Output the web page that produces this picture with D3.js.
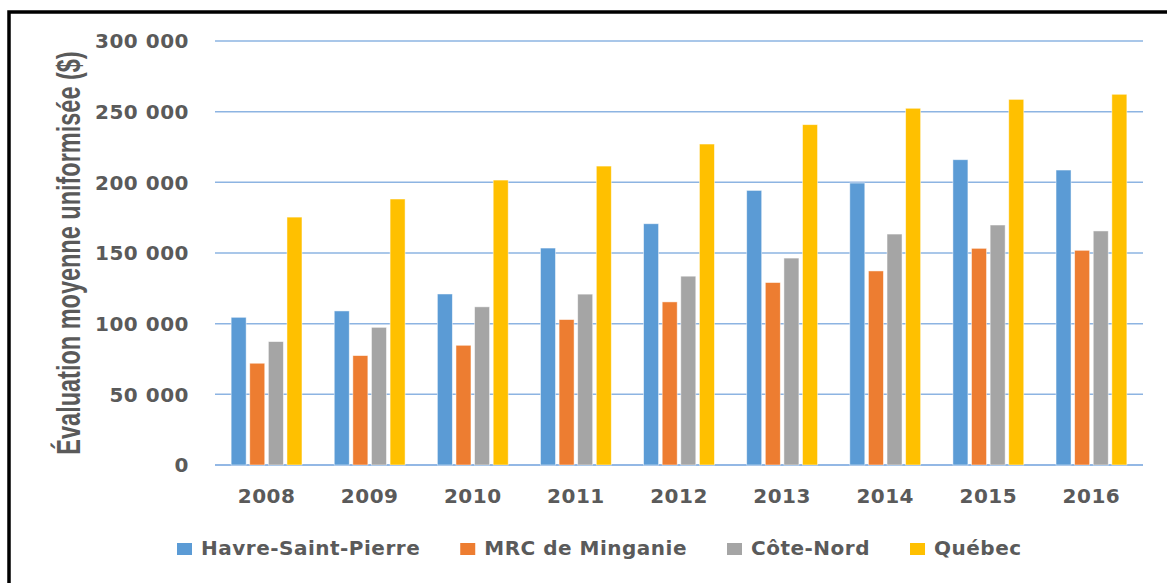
<!DOCTYPE html>
<html lang="fr">
<head>
<meta charset="UTF-8">
<title>Évaluation moyenne uniformisée</title>
<script src="https://d3js.org/d3.v7.min.js"></script>
<style>
    body { margin: 0; background: #fff; }
    .tick-label, .legend-text {
        font-family: "DejaVu Sans", sans-serif;
        font-weight: bold;
        font-size: 20px;
        letter-spacing: 0.5px;
        fill: #5a5a5a;
    }
    .y-title {
        font-family: "Liberation Sans", Arial, sans-serif;
        font-weight: bold;
        font-size: 23.5px;
        fill: #5a5a5a;
    }
</style>
</head>
<body>
<svg width="1167" height="583"></svg>
<script>
    // data
    const years = ["2008", "2009", "2010", "2011", "2012", "2013", "2014", "2015", "2016"];
    const series = ["Havre-Saint-Pierre", "MRC de Minganie", "Côte-Nord", "Québec"];
    const colors = ["#5B9BD5", "#ED7D31", "#A5A5A5", "#FFC000"];

    const havre    = [104500, 109000, 121000, 153500, 170700, 194300, 199500, 216000, 208700];
    const minganie = [72000, 77400, 84700, 102900, 115400, 129100, 137300, 153300, 151900];
    const coteNord = [87300, 97400, 111900, 120900, 133600, 146400, 163400, 169800, 165600];
    const quebec   = [175400, 188200, 201600, 211500, 227100, 240800, 252400, 258700, 262300];

    const yTicks = [0, 50000, 100000, 150000, 200000, 250000, 300000];

    const values = [havre, minganie, coteNord, quebec];
    const rows = years.map((yr, i) => ({
        year: yr,
        bars: series.map((s, j) => ({ key: s, value: values[j][i], color: colors[j] }))
    }));

    const svg = d3.select("svg");

    // frame (left and top edges only, the rest is cropped)
    svg.append("path")
        .attr("d", "M9,583 L9,12 L1167,12")
        .attr("fill", "none")
        .attr("stroke", "#000")
        .attr("stroke-width", 3.5);

    const plotL = 215, plotR = 1143, plotT = 41, plotB = 465;

    const y = d3.scaleLinear().domain([0, 300000]).range([plotB, plotT]);

    const x0 = d3.scaleBand()
        .domain(years)
        .range([plotL, plotR])
        .paddingInner(0.313)
        .paddingOuter(0.1565);

    const x1 = d3.scaleBand()
        .domain(series)
        .range([0, x0.bandwidth()])
        .paddingInner(0.194);

    const fmt = v => d3.format(",")(v).replace(/,/g, " ");

    // gridlines
    svg.append("g")
        .selectAll("line")
        .data(yTicks)
        .join("line")
        .attr("x1", plotL)
        .attr("x2", plotR)
        .attr("y1", d => y(d))
        .attr("y2", d => y(d))
        .attr("stroke", d => d === 0 ? "#6FA0DC" : "#8DB4E2")
        .attr("stroke-width", 1.5);

    // y tick labels
    svg.append("g")
        .selectAll("text")
        .data(yTicks)
        .join("text")
        .attr("class", "tick-label")
        .attr("x", 189)
        .attr("y", d => y(d))
        .attr("dy", "0.36em")
        .attr("text-anchor", "end")
        .text(fmt);

    // bars
    svg.append("g")
        .selectAll("g")
        .data(rows)
        .join("g")
        .attr("transform", d => `translate(${x0(d.year)},0)`)
        .selectAll("rect")
        .data(d => d.bars)
        .join("rect")
        .attr("x", d => x1(d.key))
        .attr("width", x1.bandwidth())
        .attr("y", d => y(d.value))
        .attr("height", d => plotB - y(d.value))
        .attr("fill", d => d.color)
        .attr("stroke", "#fff")
        .attr("stroke-opacity", 0.6)
        .attr("stroke-width", 0.8);

    // x labels
    svg.append("g")
        .selectAll("text")
        .data(years)
        .join("text")
        .attr("class", "tick-label")
        .attr("x", d => x0(d) + x0.bandwidth() / 2)
        .attr("y", 503)
        .attr("text-anchor", "middle")
        .text(d => d);

    // y title
    svg.append("text")
        .attr("class", "y-title")
        .attr("transform", `translate(80,${(plotT + plotB) / 2}) scale(1.4,1) rotate(-90)`)
        .attr("text-anchor", "middle")
        .text("Évaluation moyenne uniformisée ($)");

    // legend
    const legend = svg.append("g");
    let lx = 177;
    series.forEach((s, j) => {
        legend.append("rect")
            .attr("x", lx)
            .attr("y", 543)
            .attr("width", 15)
            .attr("height", 12)
            .attr("fill", colors[j]);
        const t = legend.append("text")
            .attr("class", "legend-text")
            .attr("x", lx + 24)
            .attr("y", 555)
            .text(s);
        lx += 24 + t.node().getComputedTextLength() + 40;
    });
</script>
</body>
</html>
